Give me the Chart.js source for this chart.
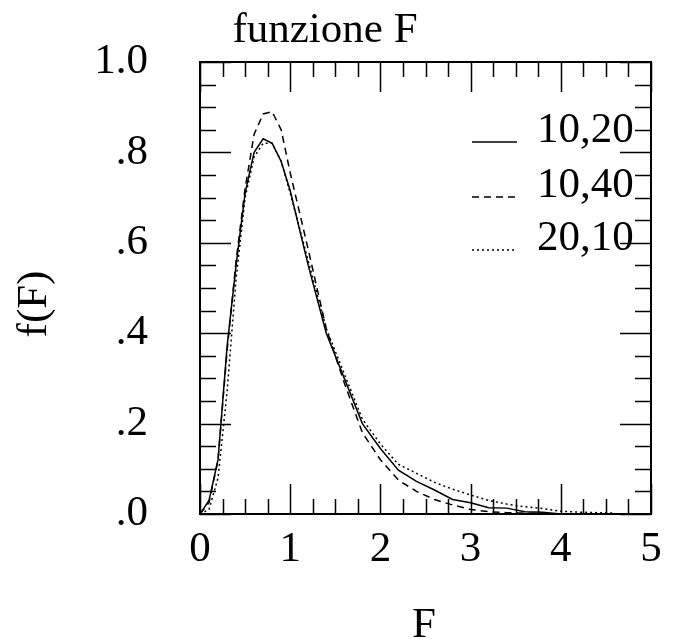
<!DOCTYPE html>
<html lang="it">
<head>
    <meta charset="UTF-8">
    <title>funzione F</title>
    <script src="https://cdn.jsdelivr.net/npm/chart.js"></script>
    <style>
        body {
            margin: 0;
            background-color: #ffffff;
        }
    </style>
</head>
<body>
<canvas id="fChart" width="680" height="639"></canvas>

<script>
    // F values where the densities were read
    const fGrid = [0, 0.1, 0.2, 0.3, 0.4, 0.5, 0.6, 0.7, 0.8, 0.9, 1.0, 1.2, 1.4, 1.6, 1.8,
                   2.0, 2.2, 2.4, 2.6, 2.8, 3.0, 3.2, 3.4, 3.6, 3.8, 4.0, 4.2, 4.4, 4.6];

    const f10_20 = [0, 0.03, 0.12, 0.37, 0.55, 0.71, 0.80, 0.83, 0.82, 0.78, 0.715, 0.55, 0.40, 0.30, 0.20,
                    0.145, 0.097, 0.072, 0.053, 0.032, 0.025, 0.014, 0.013, 0.005, 0.004, 0, 0, 0, 0];
    const f10_40 = [0, 0.025, 0.12, 0.36, 0.56, 0.72, 0.84, 0.885, 0.89, 0.85, 0.755, 0.585, 0.41, 0.29, 0.18,
                    0.12, 0.075, 0.05, 0.032, 0.02, 0.01, 0.005, 0.003, 0.002, 0.001, 0, 0, 0, 0];
    const f20_10 = [0, 0.01, 0.08, 0.27, 0.52, 0.70, 0.79, 0.82, 0.82, 0.78, 0.71, 0.56, 0.41, 0.31, 0.21,
                    0.155, 0.11, 0.09, 0.07, 0.055, 0.042, 0.03, 0.022, 0.016, 0.012, 0.006, 0.004, 0.003, 0.002];

    const seriesLabels = ['10,20', '10,40', '20,10'];
    const seriesDash = [[], [7, 5], [2, 3]];

    const FONT = '"Liberation Serif", "Times New Roman", serif';

    function toPoints(ys) {
        return fGrid.map((x, i) => ({ x: x, y: ys[i] }));
    }

    // box, inward ticks on all sides, title, axis titles and legend
    const framePlugin = {
        id: 'frame',
        afterDraw(chart) {
            const ctx = chart.ctx;
            const a = chart.chartArea;
            const xs = chart.scales.x;
            const ys = chart.scales.y;
            ctx.save();
            ctx.strokeStyle = '#000';
            ctx.lineWidth = 2;
            ctx.strokeRect(a.left, a.top, a.right - a.left, a.bottom - a.top);

            ctx.lineWidth = 1.5;
            ctx.beginPath();
            for (let v = 0; v <= 5.001; v += 0.25) {
                const px = Math.round(xs.getPixelForValue(v)) + 0.5;
                const len = Math.abs(v - Math.round(v)) < 1e-6 ? 30 : 15;
                ctx.moveTo(px, a.bottom); ctx.lineTo(px, a.bottom - len);
                ctx.moveTo(px, a.top); ctx.lineTo(px, a.top + len);
            }
            for (let k = 0; k <= 20; k++) {
                const v = k * 0.05;
                const py = Math.round(ys.getPixelForValue(v)) + 0.5;
                const len = k % 4 === 0 ? 31 : 16;
                ctx.moveTo(a.left, py); ctx.lineTo(a.left + len, py);
                ctx.moveTo(a.right, py); ctx.lineTo(a.right - len, py);
            }
            ctx.stroke();

            ctx.fillStyle = '#000';
            ctx.font = '43px ' + FONT;
            ctx.textBaseline = 'alphabetic';
            ctx.textAlign = 'center';
            ctx.fillText('funzione F', 325, 42);
            ctx.fillText('F', 424, 637);

            ctx.save();
            ctx.translate(46, 304);
            ctx.rotate(-Math.PI / 2);
            ctx.fillText('f(F)', 0, 0);
            ctx.restore();

            // legend
            const legendY = [142, 197, 250];
            ctx.textAlign = 'left';
            chart.data.datasets.forEach((ds, i) => {
                ctx.beginPath();
                ctx.lineWidth = 1.5;
                ctx.setLineDash(ds.borderDash);
                ctx.moveTo(472, legendY[i]);
                ctx.lineTo(517, legendY[i]);
                ctx.stroke();
                ctx.setLineDash([]);
                ctx.fillText(ds.label, 537, legendY[i]);
            });
            ctx.restore();
        }
    };

    new Chart(document.getElementById('fChart'), {
        type: 'line',
        data: {
            datasets: [f10_20, f10_40, f20_10].map((ys, i) => ({
                label: seriesLabels[i],
                data: toPoints(ys),
                borderColor: '#000',
                borderWidth: 1.5,
                borderDash: seriesDash[i],
                pointRadius: 0,
                tension: 0,
                fill: false
            }))
        },
        options: {
            responsive: false,
            animation: false,
            layout: { padding: { top: 62, right: 29, left: 0, bottom: 0 } },
            plugins: {
                legend: { display: false },
                tooltip: { enabled: false }
            },
            scales: {
                x: {
                    type: 'linear',
                    min: 0,
                    max: 5,
                    afterFit: (scale) => { scale.height = 125; },
                    grid: { display: false, drawTicks: false },
                    border: { display: false },
                    ticks: {
                        stepSize: 1,
                        padding: 10,
                        maxRotation: 0,
                        color: '#000',
                        font: { family: FONT, size: 43 }
                    }
                },
                y: {
                    min: 0,
                    max: 1,
                    afterFit: (scale) => { scale.width = 200; },
                    // invisible tick marks just to push labels away from the box
                    grid: {
                        display: true,
                        drawOnChartArea: false,
                        drawTicks: true,
                        tickLength: 52,
                        color: 'rgba(0,0,0,0)'
                    },
                    border: { display: false },
                    ticks: {
                        stepSize: 0.2,
                        padding: 0,
                        color: '#000',
                        font: { family: FONT, size: 43 },
                        callback: (v) => v.toFixed(1).replace(/^0/, '')
                    }
                }
            }
        },
        plugins: [framePlugin]
    });
</script>
</body>
</html>
